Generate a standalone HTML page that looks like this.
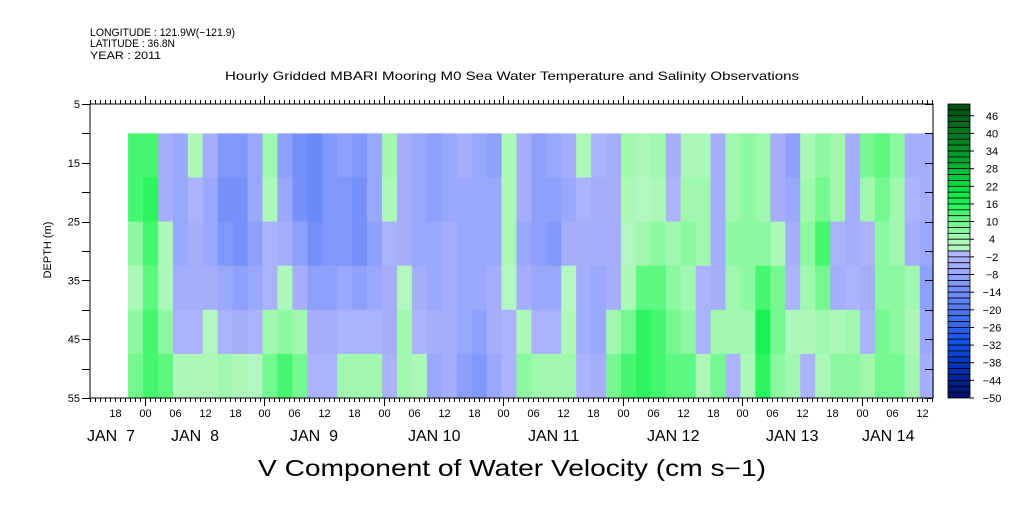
<!DOCTYPE html>
<html><head><meta charset="utf-8"><style>
body{margin:0;background:#fff;width:1009px;height:504px;overflow:hidden}
svg text{font-family:"Liberation Sans",sans-serif;fill:#000}
</style></head><body>
<svg id="chart" width="1009" height="504" xmlns="http://www.w3.org/2000/svg">
<g font-size="11">
<text x="90" y="36" textLength="145" lengthAdjust="spacingAndGlyphs">LONGITUDE : 121.9W(−121.9)</text>
<text x="90" y="47" textLength="85" lengthAdjust="spacingAndGlyphs">LATITUDE : 36.8N</text>
<text x="90" y="59" textLength="71" lengthAdjust="spacingAndGlyphs">YEAR : 2011</text>
</g>
<text x="225" y="80" font-size="12" textLength="574" lengthAdjust="spacingAndGlyphs">Hourly Gridded MBARI Mooring M0 Sea Water Temperature and Salinity Observations</text>
<text x="258" y="476" font-size="23" textLength="508" lengthAdjust="spacingAndGlyphs">V Component of Water Velocity (cm s−1)</text>
<text transform="translate(51,250) rotate(-90)" font-size="11" text-anchor="middle">DEPTH (m)</text>
<g id="cells"></g>
<g id="axes"></g>
<g id="cbar"></g>
</svg>
<script>
// time in hours since Jan 7 00:00, depth in m
const colStartHours = -3.4;
const colStepHours = 3;
const depthEdges = [10, 17.5, 25, 32.5, 40, 47.5, 55];
const velocity = [
[12,12,6,2,6,8],[12,14,12,10,12,12],[-4,-4,3,2,6,10],[-6,-6,-6,-4,-2,2],[3,-2,-4,-4,-2,2],
[-4,-6,-6,-4,0,2],[-10,-12,-10,-6,-2,4],[-10,-12,-12,-8,-4,2],[-6,-6,-8,-6,-2,0],[4,3,-2,-2,4,8],
[-8,-6,-4,2,6,12],[-12,-12,-8,-4,4,8],[-14,-14,-12,-8,-4,-2],[-10,-10,-10,-8,-4,-2],[-8,-10,-10,-6,-2,4],
[-10,-12,-12,-8,-2,4],[-6,-6,-8,-6,-2,4],[4,2,-2,-4,-4,-2],[-4,-4,-4,0,4,4],[-6,-6,-6,-4,-2,2],
[-8,-8,-6,-6,-4,-6],[-6,-6,-4,-4,-4,-4],[-4,-6,-6,-6,-6,-8],[-6,-6,-6,-6,-8,-10],[-8,-6,-6,-4,-4,-6],
[3,2,3,0,-2,-2],[-4,-4,-6,-4,2,6],[-8,-8,-8,-6,-2,4],[-6,-8,-10,-6,-2,4],[-4,-6,-4,0,2,4],
[2,-2,-4,-4,-4,-2],[-2,-4,-4,-6,-6,-4],[-4,-4,-4,-4,4,8],[4,2,0,2,8,12],[2,0,4,10,14,14],
[4,3,6,10,12,12],[-4,-2,4,6,8,10],[3,4,6,4,6,10],[2,4,4,-2,-2,2],[-4,-4,-4,-4,4,8],
[4,4,6,4,4,-2],[6,6,6,6,4,2],[4,4,6,12,16,14],[-4,-4,2,8,8,6],[-8,-6,-4,-2,2,4],
[2,4,6,4,2,-2],[6,8,12,8,4,2],[4,4,-2,-4,2,6],[-4,-4,-4,-2,4,6],[8,4,-2,-4,-2,4],
[10,8,6,6,8,8],[6,4,4,6,6,8],[-4,-2,-4,4,2,4],[-4,-4,-6,-8,-6,-4]
];
const hourTickLabels = ["18","00","06","12"];
const dayLabels = ["JAN  7","JAN  8","JAN  9","JAN 10","JAN 11","JAN 12","JAN 13","JAN 14"];
const depthTickLabels = [5,15,25,35,45,55];
const cbarLabels = [46,40,34,28,22,16,10,4,-2,-8,-14,-20,-26,-32,-38,-44,-50];

const NS="http://www.w3.org/2000/svg";
const PL=90,PR=933,PT=104,PB=398;
const HMAX=158.3;
const xs=h=>145+h*4.979;
const ys=d=>PT+(d-5)*(PB-PT)/50;
function mk(tag,attrs,parent){const e=document.createElementNS(NS,tag);for(const k in attrs)e.setAttribute(k,attrs[k]);parent.appendChild(e);return e;}
const stops=[[-50,[0,16,96]],[-40,[0,48,176]],[-30,[26,85,240]],[-20,[79,120,245]],[-12,[122,148,250]],[-6,[160,172,252]],[0,[182,186,252]],
[0.01,[182,247,196]],[4,[168,248,180]],[8,[130,248,152]],[12,[80,248,118]],[16,[32,244,88]],[22,[0,225,64]],[30,[0,170,50]],[40,[0,120,30]],[50,[0,77,16]]];
function col(v){
  v=Math.max(-50,Math.min(50,v));
  let q=v>=0?Math.floor(v/2)*2+1:Math.ceil(v/2)*2-1;
  for(let i=0;i<stops.length-1;i++){const a=stops[i],b=stops[i+1];
    if(q>=a[0]&&q<=b[0]){const t=(q-a[0])/(b[0]-a[0]||1);const c=a[1].map((x,k)=>Math.round(x+(b[1][k]-x)*t));return `rgb(${c})`;}}
  return q<0?'rgb(0,16,96)':'rgb(0,77,16)';
}
const cells=document.getElementById('cells');
velocity.forEach((colv,j)=>{
  const h0=colStartHours+j*colStepHours, h1=Math.min(h0+colStepHours,HMAX);
  colv.forEach((v,i)=>{
    const r=mk('rect',{x:xs(h0),y:ys(depthEdges[i]),width:xs(h1)-xs(h0)+0.6,height:ys(depthEdges[i+1])-ys(depthEdges[i])+0.6,fill:col(v)},cells);
    
    
  });
});
const ax=document.getElementById('axes');
mk('rect',{x:PL,y:PT,width:PR-PL,height:PB-PT,fill:'none',stroke:'#000','stroke-width':1},ax);
for(let h=-11;h<=158;h++){const x=Math.round(xs(h))+0.5;if(x<PL||x>PR)continue;
  const L=(h%24===0)?8:4;
  mk('line',{x1:x,y1:PB,x2:x,y2:PB+L,stroke:'#000'},ax);
  mk('line',{x1:x,y1:PT,x2:x,y2:PT-L,stroke:'#000'},ax);
  if(((h%6)+6)%6===0){const t=mk('text',{x:x,y:417,'font-size':11,'text-anchor':'middle'},ax);
    t.textContent=hourTickLabels[(((h/6)%4)+5)%4];
    
    }
}
const dayX=[87,171,290,408,528,647,766,862];
dayLabels.forEach((s,i)=>{const t=mk('text',{x:dayX[i],y:441,'font-size':16},ax);t.textContent=s;t.setAttribute('style','white-space:pre');
  
  });
for(let d=5;d<=55;d+=5){const y=Math.round(ys(d))+0.5;
  mk('line',{x1:PL-8,y1:y,x2:PL,y2:y,stroke:'#000'},ax);
  mk('line',{x1:PR,y1:y,x2:PR-8,y2:y,stroke:'#000'},ax);}
depthTickLabels.forEach(d=>{const t=mk('text',{x:80,y:ys(d)+4,'font-size':11,'text-anchor':'end'},ax);t.textContent=d;
  
  });
const cb=document.getElementById('cbar');
const CT=104,CB=398,CX=948,CW=22;
const cy=v=>CT+(50-v)*(CB-CT)/100;
for(let v=50;v>-50;v-=2){const r=mk('rect',{x:CX,y:cy(v),width:CW,height:cy(v-2)-cy(v),fill:col(v-1),stroke:'#000','stroke-width':0.8},cb);
  
  }
cbarLabels.forEach(v=>{const y=cy(v);mk('line',{x1:CX+CW,y1:y,x2:CX+CW+4,y2:y,stroke:'#000'},cb);
  const t=mk('text',{x:CX+CW+22,y:y+4,'font-size':11,'text-anchor':'middle'},cb);t.textContent=v<0?'−'+(-v):v;
  
  });
</script>
</body></html>
